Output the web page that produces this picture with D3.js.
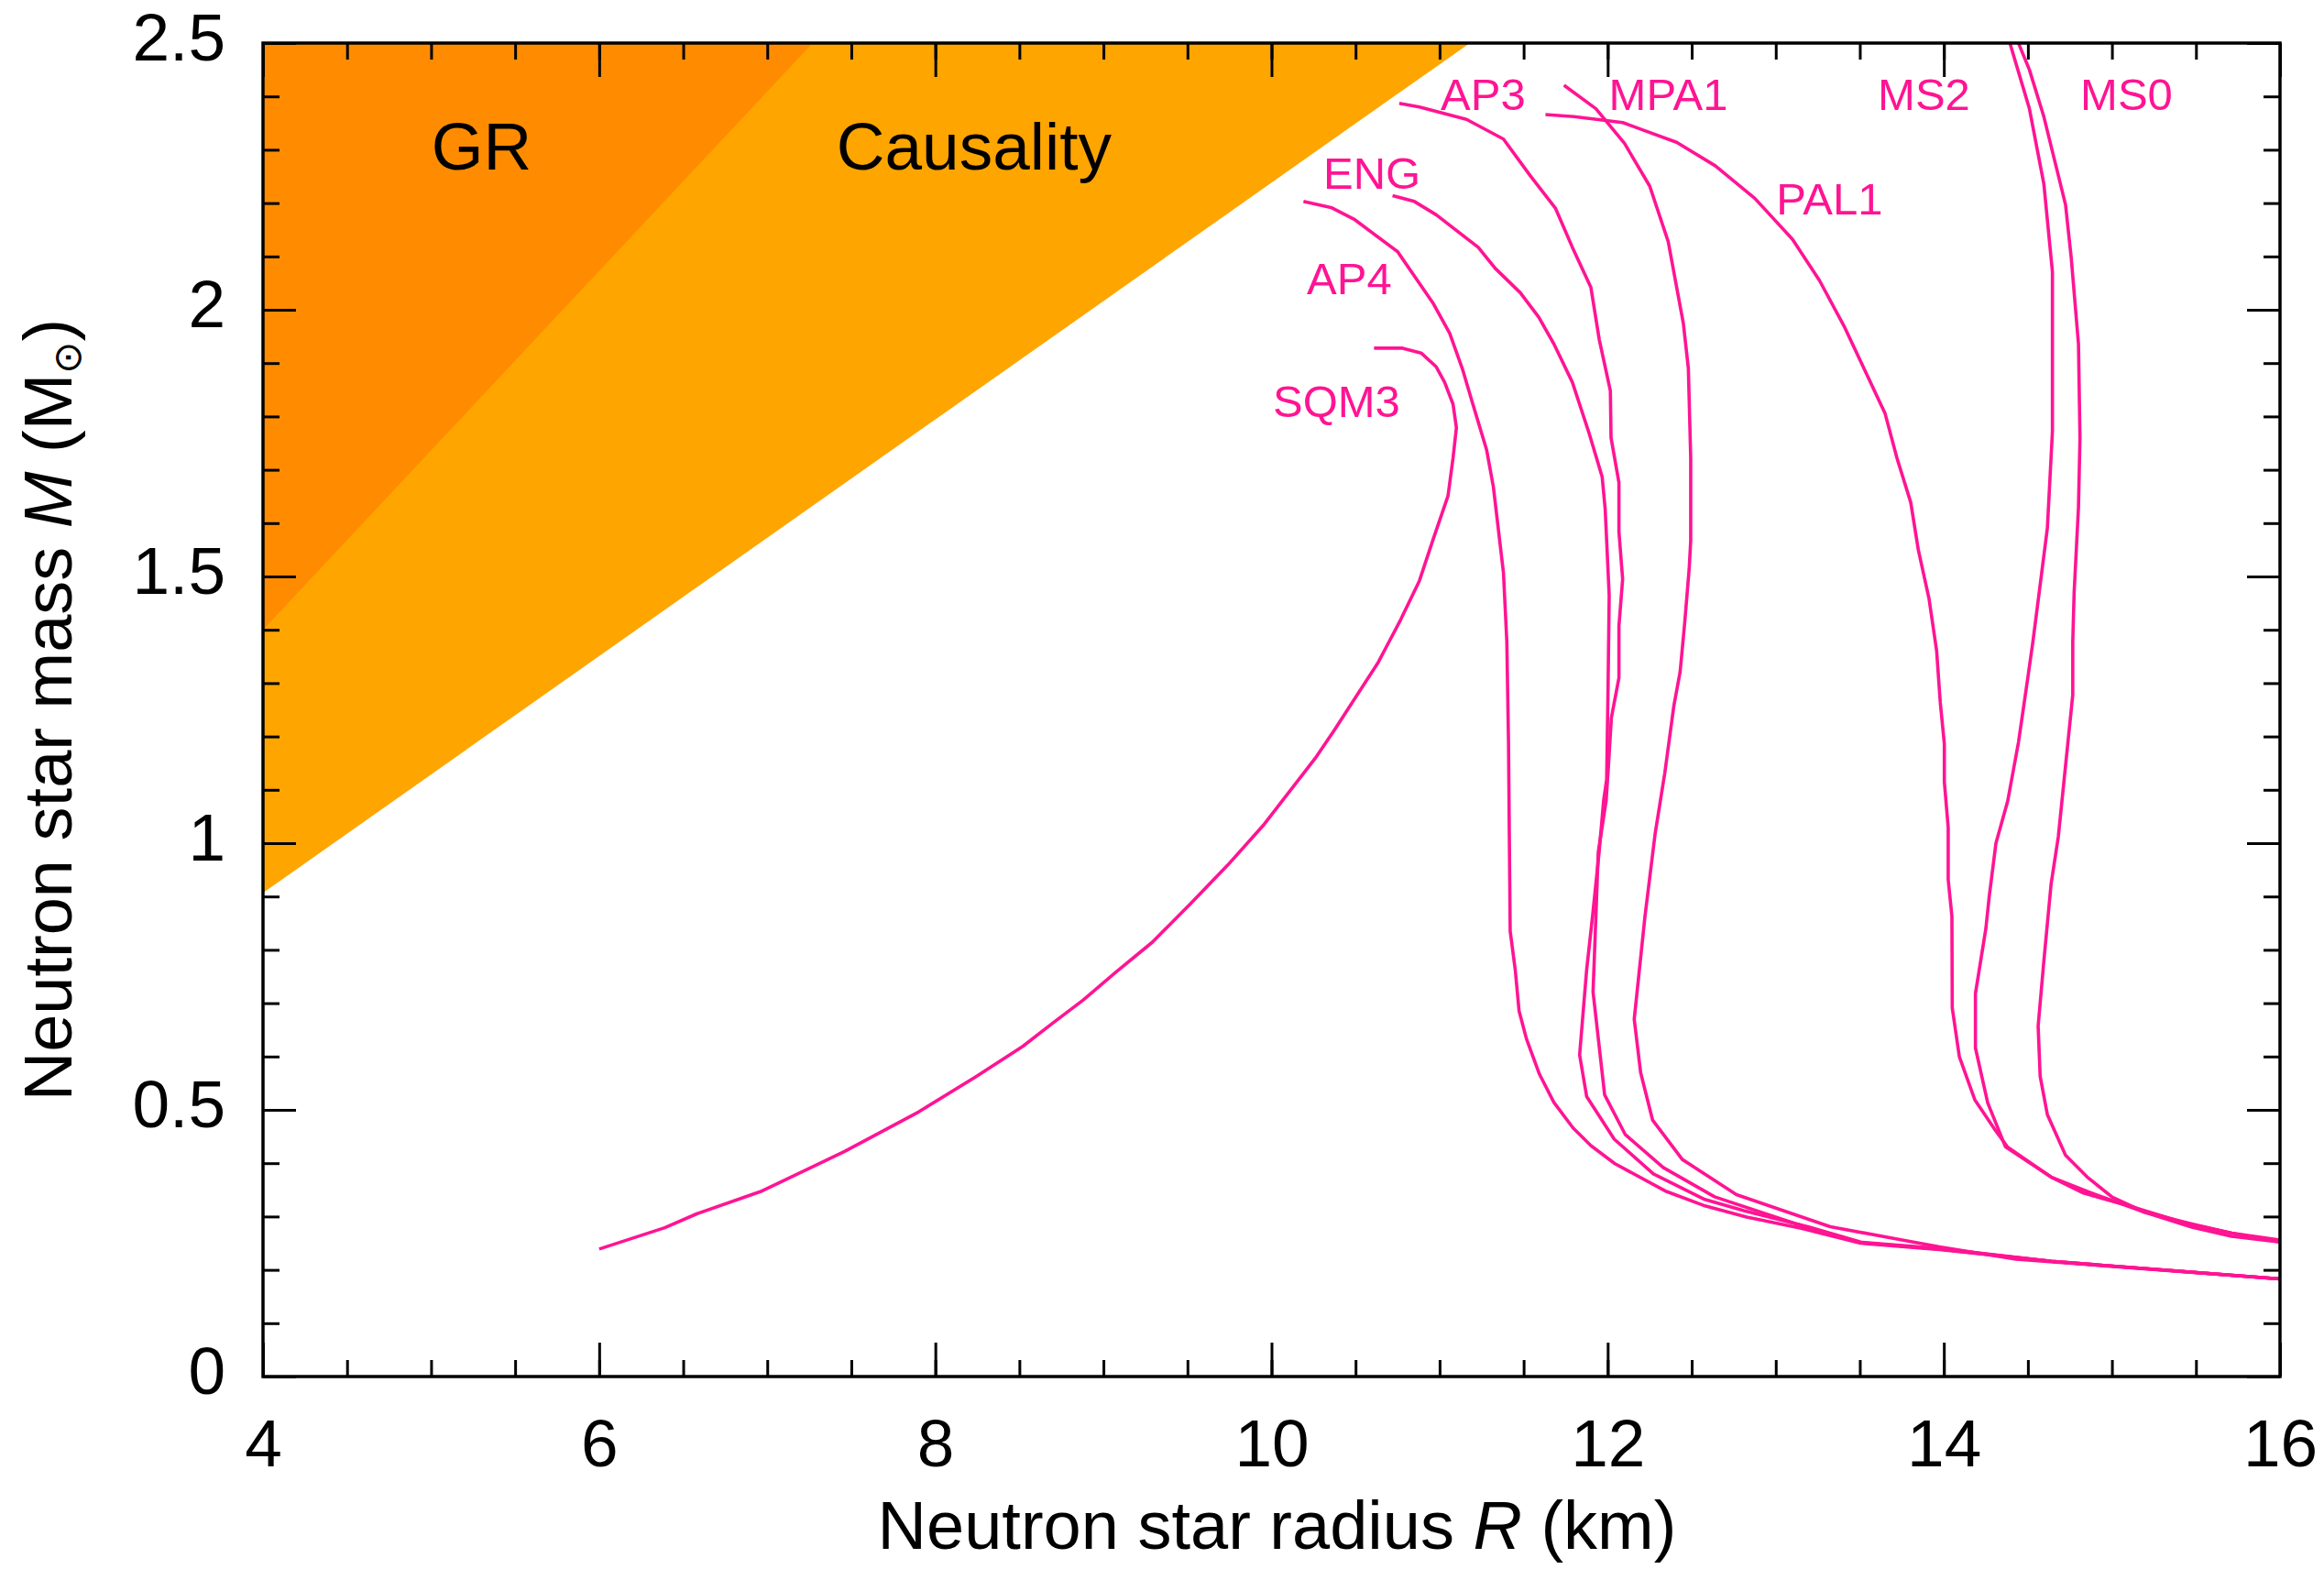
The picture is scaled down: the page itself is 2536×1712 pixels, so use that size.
<!DOCTYPE html>
<html>
<head>
<meta charset="utf-8">
<script src="https://cdn.jsdelivr.net/npm/d3@7/dist/d3.min.js"></script>
<style>
body{margin:0;background:#fff;}
text{font-family:"Liberation Sans",Arial,Helvetica,sans-serif;}
</style>
</head>
<body>
<svg id="chart"></svg>
<script>
// axis ticks
var xMajor = [4, 6, 8, 10, 12, 14, 16];
var xMinor = d3.range(4, 16.01, 0.5);
var yMajor = [0, 0.5, 1, 1.5, 2, 2.5];
var yMinor = d3.range(0, 2.51, 0.1);

// forbidden regions, [R km, M Msun]
var grRegion = [[4, 1.40], [7.27, 2.5], [4, 2.5]];
var causalRegion = [[4, 0.907], [11.18, 2.5], [4, 2.5]];
var regionNames = ["GR", "Causality"];
var regionLabelAt = [[5.30, 2.263], [8.23, 2.263]];

// mass-radius curves [R km, M Msun]
var sqm3 = [[10.61,1.928],[10.78,1.928],[10.89,1.919],[10.98,1.893],[11.03,1.864],[11.08,1.823],[11.10,1.779],[11.08,1.722],[11.05,1.651],[10.96,1.568],[10.88,1.492],[10.77,1.42],[10.70,1.378],[10.635,1.339],[10.37,1.21],[10.26,1.159],[9.95,1.033],[9.74,0.959],[9.52,0.887],[9.29,0.814],[9.07,0.757],[8.88,0.706],[8.70,0.663],[8.52,0.619],[8.24,0.562],[7.90,0.496],[7.68,0.459],[7.46,0.422],[6.97,0.348],[6.58,0.305],[6.39,0.279],[6.0,0.239]];
var ap4 = [[10.19,2.203],[10.36,2.191],[10.49,2.170],[10.75,2.109],[10.96,2.013],[11.06,1.956],[11.135,1.890],[11.20,1.821],[11.28,1.737],[11.32,1.668],[11.38,1.507],[11.40,1.378],[11.41,1.189],[11.415,1.012],[11.42,0.835],[11.45,0.763],[11.473,0.685],[11.517,0.633],[11.594,0.567],[11.68,0.514],[11.794,0.466],[11.90,0.433],[12.043,0.399],[12.349,0.347],[12.569,0.321],[12.827,0.299],[13.152,0.278],[13.505,0.25],[13.974,0.238],[14.64,0.216],[16,0.183]];
var eng = [[10.72,2.214],[10.85,2.203],[10.98,2.178],[11.23,2.117],[11.33,2.078],[11.48,2.032],[11.59,1.986],[11.68,1.936],[11.79,1.864],[11.89,1.768],[11.967,1.687],[11.985,1.627],[11.994,1.567],[12.009,1.464],[12.003,1.309],[11.994,1.12],[11.976,1.08],[11.949,0.983],[11.91,0.863],[11.875,0.763],[11.833,0.603],[11.875,0.525],[12.039,0.445],[12.272,0.38],[12.578,0.332],[12.81,0.311],[13.2,0.28],[13.505,0.252],[13.974,0.24],[14.64,0.216],[16,0.183]];
var ap3 = [[10.76,2.387],[10.88,2.380],[11.16,2.357],[11.38,2.320],[11.54,2.251],[11.69,2.190],[11.79,2.117],[11.90,2.042],[11.95,1.944],[12.016,1.848],[12.02,1.760],[12.067,1.676],[12.067,1.584],[12.089,1.495],[12.067,1.407],[12.067,1.31],[12.022,1.235],[12.003,1.137],[11.991,1.08],[11.944,0.983],[11.93,0.863],[11.913,0.721],[11.982,0.528],[12.104,0.454],[12.33,0.392],[12.636,0.337],[13.114,0.287],[13.505,0.251],[13.974,0.239],[14.64,0.216],[16,0.183]];
var mpa1 = [[11.74,2.421],[11.93,2.377],[12.10,2.312],[12.25,2.232],[12.36,2.128],[12.45,1.975],[12.48,1.890],[12.494,1.722],[12.494,1.567],[12.485,1.515],[12.458,1.412],[12.431,1.321],[12.394,1.258],[12.34,1.132],[12.282,1.017],[12.222,0.863],[12.158,0.67],[12.196,0.57],[12.267,0.481],[12.444,0.407],[12.766,0.341],[13.324,0.281],[13.7,0.259],[13.974,0.243],[14.43,0.22],[16,0.183]];
var pal1 = [[11.63,2.366],[11.80,2.362],[12.09,2.351],[12.21,2.337],[12.41,2.314],[12.64,2.270],[12.875,2.209],[13.10,2.132],[13.26,2.055],[13.41,1.967],[13.65,1.806],[13.721,1.722],[13.803,1.639],[13.848,1.550],[13.912,1.458],[13.957,1.361],[13.979,1.263],[14.003,1.186],[14.003,1.115],[14.026,1.029],[14.026,0.931],[14.048,0.863],[14.05,0.691],[14.092,0.60],[14.184,0.519],[14.299,0.465],[14.38,0.43],[14.638,0.374],[14.831,0.344],[15.11,0.319],[15.454,0.286],[15.712,0.269],[16,0.252]];
var ms2 = [[14.393,2.5],[14.509,2.377],[14.595,2.236],[14.646,2.071],[14.646,1.772],[14.616,1.591],[14.573,1.484],[14.53,1.378],[14.50,1.311],[14.444,1.189],[14.38,1.079],[14.31,1.0],[14.27,0.9],[14.25,0.84],[14.188,0.718],[14.188,0.616],[14.261,0.513],[14.366,0.431],[14.638,0.374],[14.853,0.347],[15.196,0.308],[15.476,0.28],[15.712,0.263],[16,0.252]];
var ms0 = [[14.444,2.5],[14.509,2.45],[14.595,2.362],[14.724,2.197],[14.758,2.097],[14.801,1.936],[14.81,1.760],[14.801,1.630],[14.775,1.469],[14.767,1.378],[14.767,1.278],[14.681,1.012],[14.638,0.923],[14.595,0.779],[14.561,0.657],[14.573,0.563],[14.616,0.491],[14.724,0.415],[14.853,0.374],[15.003,0.336],[15.196,0.308],[15.476,0.286],[15.712,0.269],[16,0.256]];

var curveNames = ["SQM3", "AP4", "ENG", "AP3", "MPA1", "PAL1", "MS2", "MS0"];
var curves = [sqm3, ap4, eng, ap3, mpa1, pal1, ms2, ms0];
// where each curve name is written (start of text, baseline)
var curveLabelAt = [[10.008,1.799],[10.21,2.029],[10.308,2.227],[11.006,2.375],[12.007,2.375],[13.003,2.178],[13.607,2.375],[14.812,2.375]];

var width = 2536, height = 1712;
var margin = {top: 47, right: 48, bottom: 210, left: 287};
var pink = "#ff1493";

var svg = d3.select("#chart").attr("width", width).attr("height", height);

var x = d3.scaleLinear().domain([4, 16]).range([margin.left, width - margin.right]);
var y = d3.scaleLinear().domain([0, 2.5]).range([height - margin.bottom, margin.top]);

svg.append("clipPath").attr("id", "plotclip")
  .append("rect")
  .attr("x", x(4)).attr("y", y(2.5))
  .attr("width", x(16) - x(4)).attr("height", y(0) - y(2.5));

var plot = svg.append("g").attr("clip-path", "url(#plotclip)");

var area = d3.line().x(function(d){ return x(d[0]); }).y(function(d){ return y(d[1]); });

plot.append("path").attr("d", area(causalRegion) + "Z").attr("fill", "#ffa500");
plot.append("path").attr("d", area(grRegion) + "Z").attr("fill", "#ff8c00");

svg.selectAll(".regionlabel").data(regionNames).enter().append("text")
  .attr("class", "regionlabel")
  .attr("x", function(d, i){ return x(regionLabelAt[i][0]); })
  .attr("y", function(d, i){ return y(regionLabelAt[i][1]); })
  .attr("text-anchor", "middle")
  .attr("font-size", 73)
  .attr("fill", "#000")
  .text(function(d){ return d; });

var linePath = d3.line()
  .x(function(d){ return x(d[0]); })
  .y(function(d){ return y(d[1]); });

plot.selectAll(".mr").data(curves).enter().append("path")
  .attr("class", "mr")
  .attr("d", linePath)
  .attr("fill", "none")
  .attr("stroke", pink)
  .attr("stroke-width", 3.6)
  .attr("stroke-linejoin", "round");

svg.selectAll(".curvelabel").data(curveNames).enter().append("text")
  .attr("class", "curvelabel")
  .attr("x", function(d, i){ return x(curveLabelAt[i][0]); })
  .attr("y", function(d, i){ return y(curveLabelAt[i][1]); })
  .attr("font-size", 49)
  .attr("fill", pink)
  .text(function(d){ return d; });

// axes: ticks point inward on all four sides
function styleAxis(g) {
  g.select(".domain").remove();
  g.selectAll(".tick line").attr("stroke", "#000").attr("stroke-width", 3);
}

svg.append("g").attr("transform", "translate(0," + y(0) + ")")
  .call(d3.axisBottom(x).tickValues(xMinor).tickSize(-18).tickFormat(""))
  .call(styleAxis);
var xb = svg.append("g").attr("transform", "translate(0," + y(0) + ")")
  .call(d3.axisBottom(x).tickValues(xMajor).tickSize(-37).tickFormat(d3.format("d")))
  .call(styleAxis);
xb.selectAll("text").attr("y", 98).attr("dy", null)
  .attr("font-size", 73).attr("fill", "#000")
  .attr("font-family", "Liberation Sans, Arial, sans-serif");

svg.append("g").attr("transform", "translate(0," + y(2.5) + ")")
  .call(d3.axisTop(x).tickValues(xMinor).tickSize(-18).tickFormat(""))
  .call(styleAxis);
svg.append("g").attr("transform", "translate(0," + y(2.5) + ")")
  .call(d3.axisTop(x).tickValues(xMajor).tickSize(-37).tickFormat(""))
  .call(styleAxis);

svg.append("g").attr("transform", "translate(" + x(4) + ",0)")
  .call(d3.axisLeft(y).tickValues(yMinor).tickSize(-18).tickFormat(""))
  .call(styleAxis);
var yl = svg.append("g").attr("transform", "translate(" + x(4) + ",0)")
  .call(d3.axisLeft(y).tickValues(yMajor).tickSize(-36).tickPadding(41).tickFormat(d3.format("~g")))
  .call(styleAxis);
yl.selectAll("text").attr("dy", "0.25em")
  .attr("font-size", 73).attr("fill", "#000")
  .attr("font-family", "Liberation Sans, Arial, sans-serif");

svg.append("g").attr("transform", "translate(" + x(16) + ",0)")
  .call(d3.axisRight(y).tickValues(yMinor).tickSize(-18).tickFormat(""))
  .call(styleAxis);
svg.append("g").attr("transform", "translate(" + x(16) + ",0)")
  .call(d3.axisRight(y).tickValues(yMajor).tickSize(-36).tickFormat(""))
  .call(styleAxis);

// frame
svg.append("rect")
  .attr("x", x(4)).attr("y", y(2.5))
  .attr("width", x(16) - x(4)).attr("height", y(0) - y(2.5))
  .attr("fill", "none").attr("stroke", "#000").attr("stroke-width", 3.5);

// axis titles
var xt = svg.append("text")
  .attr("x", (x(4) + x(16)) / 2 + 6).attr("y", 1690)
  .attr("text-anchor", "middle").attr("font-size", 74).attr("fill", "#000");
xt.append("tspan").text("Neutron star radius ");
xt.append("tspan").attr("font-style", "italic").text("R");
xt.append("tspan").text(" (km)");

var yt = svg.append("text")
  .attr("transform", "translate(78," + ((y(0) + y(2.5)) / 2) + ") rotate(-90)")
  .attr("text-anchor", "middle").attr("font-size", 74).attr("fill", "#000");
yt.append("tspan").text("Neutron star mass ");
yt.append("tspan").attr("font-style", "italic").text("M");
yt.append("tspan").text(" (M");
yt.append("tspan").attr("font-size", 42).attr("dy", 10).attr("font-family", "DejaVu Sans, sans-serif").text("\u2299");
yt.append("tspan").attr("dy", -10).text(")");
</script>
</body>
</html>
